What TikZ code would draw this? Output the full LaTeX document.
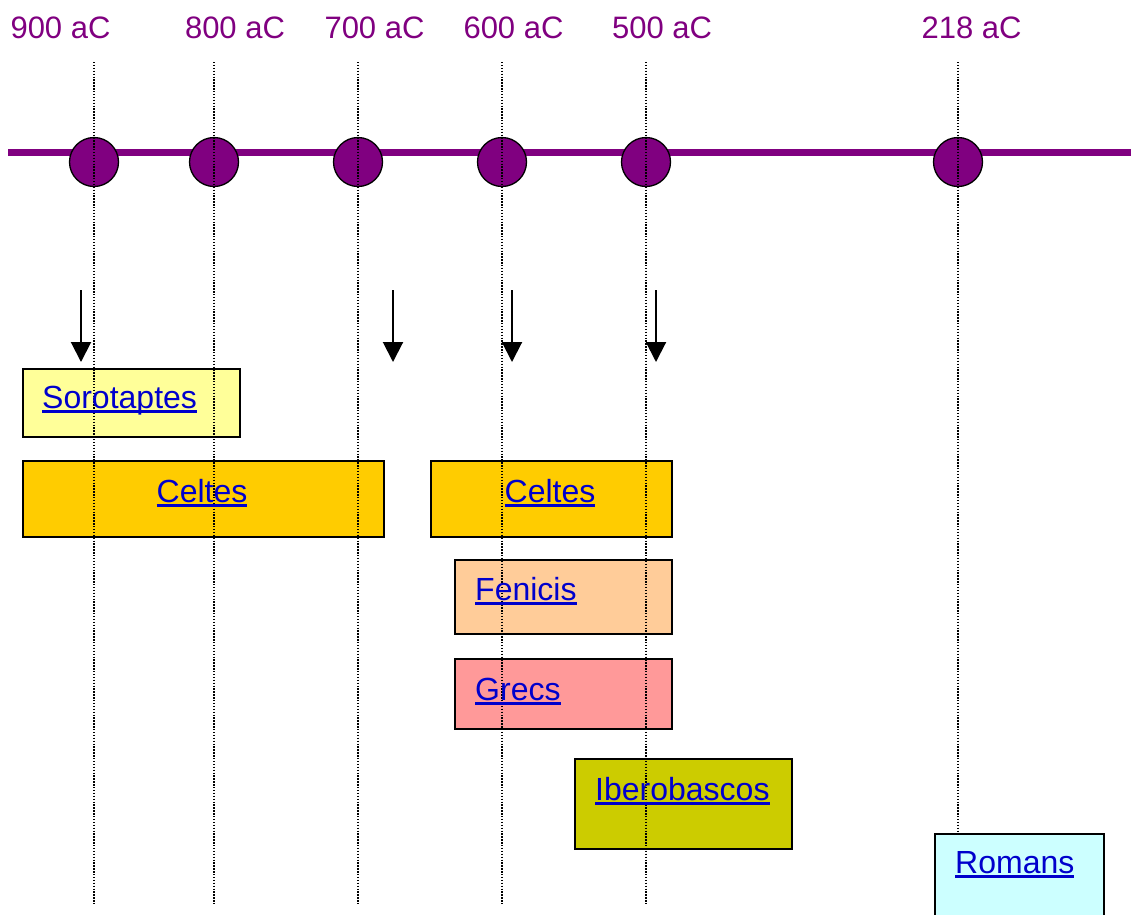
\documentclass[tikz,border=0pt]{standalone}
\usepackage{fontspec}
\setmainfont{Liberation Sans}
\usetikzlibrary{arrows.meta}
\definecolor{tlpurple}{HTML}{800080}
\definecolor{linkblue}{HTML}{0000CC}
\definecolor{soroyellow}{HTML}{FFFF99}
\definecolor{celtgold}{HTML}{FFCC00}
\definecolor{fenpeach}{HTML}{FFCC99}
\definecolor{grecpink}{HTML}{FF9999}
\definecolor{iberolive}{HTML}{CCCC00}
\definecolor{romcyan}{HTML}{CCFFFF}
% underlined link-style text
\newcommand\linktext[1]{\setbox0\hbox{#1}\rlap{\rule[-4.5pt]{\wd0}{2.7pt}}\box0}
\begin{document}
\begin{tikzpicture}[x=1pt,y=-1pt,
  year/.style={text=tlpurple, font=\fontsize{31}{37}\selectfont, anchor=base, inner sep=0},
  tick/.style={circle, draw=black, line width=1.3pt, fill=tlpurple, minimum size=49pt, inner sep=0},
  period/.style={draw=black, line width=2pt, anchor=north west, inner sep=0},
  label/.style={text=linkblue, font=\fontsize{32}{38}\selectfont, inner sep=0},
  guide/.style={line width=1.4pt, dash pattern=on 1.4pt off 1.5pt},
  drop/.style={line width=2pt, -{Triangle[length=20pt,width=20pt]}},
  axis/.style={draw=tlpurple, line width=7pt}]
\useasboundingbox (0,0) rectangle (1131,914);
\clip (0,0) rectangle (1131,914);

% year labels
\node[year] (y900) at (60.5,38) {900 aC};
\node[year] (y800) at (235,38) {800 aC};
\node[year] (y700) at (374.5,38) {700 aC};
\node[year] (y600) at (513.5,38) {600 aC};
\node[year] (y500) at (662,38) {500 aC};
\node[year] (y218) at (971.5,38) {218 aC};

% time axis
\coordinate (axl) at (8,152);
\coordinate (axr) at (1131,152);
\draw[axis] (axl) -- (axr);
\node[tick] (t900) at (94,162) {};
\node[tick] (t800) at (214,162) {};
\node[tick] (t700) at (358,162) {};
\node[tick] (t600) at (502,162) {};
\node[tick] (t500) at (646,162) {};
\node[tick] (t218) at (958,162) {};

% arrivals
\coordinate (a1s) at (81,290);  \coordinate (a1e) at (81,362);
\coordinate (a2s) at (393,290); \coordinate (a2e) at (393,362);
\coordinate (a3s) at (512,290); \coordinate (a3e) at (512,362);
\coordinate (a4s) at (656,290); \coordinate (a4e) at (656,362);
\draw[drop] (a1s) -- (a1e);
\draw[drop] (a2s) -- (a2e);
\draw[drop] (a3s) -- (a3e);
\draw[drop] (a4s) -- (a4e);

% peoples
\node[period, fill=soroyellow, minimum width=217pt, minimum height=68pt] (soro) at (22,368) {};
\node[period, fill=celtgold, minimum width=361pt, minimum height=76pt] (celtA) at (22,460) {};
\node[period, fill=celtgold, minimum width=241pt, minimum height=76pt] (celtB) at (430,460) {};
\node[period, fill=fenpeach, minimum width=217pt, minimum height=74pt] (feni) at (454,559) {};
\node[period, fill=grecpink, minimum width=217pt, minimum height=70pt] (grec) at (454,658) {};
\node[period, fill=iberolive, minimum width=217pt, minimum height=90pt] (iber) at (574,758) {};

% guide lines
\coordinate (g900t) at (94,62);  \coordinate (g900b) at (94,905);
\coordinate (g800t) at (214,62); \coordinate (g800b) at (214,905);
\coordinate (g700t) at (358,62); \coordinate (g700b) at (358,905);
\coordinate (g600t) at (502,62); \coordinate (g600b) at (502,905);
\coordinate (g500t) at (646,62); \coordinate (g500b) at (646,905);
\coordinate (g218t) at (958,62); \coordinate (g218b) at (958,833);
\draw[guide] (g900t) -- (g900b);
\draw[guide] (g800t) -- (g800b);
\draw[guide] (g700t) -- (g700b);
\draw[guide] (g600t) -- (g600b);
\draw[guide] (g500t) -- (g500b);
\draw[guide] (g218t) -- (g218b);

\node[period, fill=romcyan, minimum width=169pt, minimum height=100pt] (roma) at (934,833) {};

% names
\node[label, anchor=base west] (lsoro) at (42,408) {\linktext{Sorotaptes}};
\node[label, anchor=base] (lceltA) at (202,502) {\linktext{Celtes}};
\node[label, anchor=base] (lceltB) at (550,502) {\linktext{Celtes}};
\node[label, anchor=base west] (lfeni) at (475,600) {\linktext{Fenicis}};
\node[label, anchor=base west] (lgrec) at (475,700) {\linktext{Grecs}};
\node[label, anchor=base west] (liber) at (595,800) {\linktext{Iberobascos}};
\node[label, anchor=base west] (lroma) at (955,873) {\linktext{Romans}};
\end{tikzpicture}
\end{document}
